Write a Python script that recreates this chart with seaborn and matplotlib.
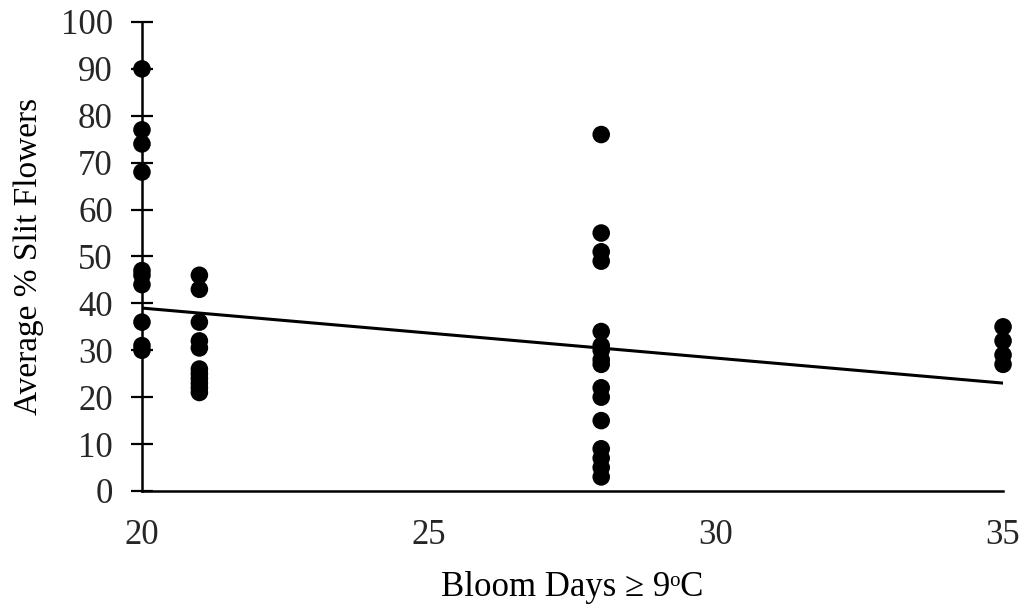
import matplotlib
matplotlib.use("Agg")
import matplotlib.pyplot as plt
import seaborn as sns
import pandas as pd

# Data
x20 = [90, 77, 74, 68, 47, 46, 44, 36, 31, 30]
x21 = [46, 43, 36, 32, 30.5, 26, 25, 24, 23, 22, 21]
x28 = [76, 55, 51, 49, 34, 31, 30, 28, 27, 22, 20, 15, 9, 7, 5, 3]
x35 = [35, 32, 29, 27]
bloom_days = [20, 21, 28, 35]
trend_x = [20, 35]
trend_y = [39, 23]
x_ticks = [20, 25, 30, 35]
y_ticks = list(range(0, 101, 10))

rows = []
for d, vals in zip(bloom_days, [x20, x21, x28, x35]):
    for v in vals:
        rows.append({"days": d, "slit": v})
df = pd.DataFrame(rows)
trend = pd.DataFrame({"days": trend_x, "slit": trend_y})

sns.set_style("white")
plt.rcParams["font.family"] = ["Liberation Serif", "DejaVu Serif"]

fig = plt.figure(figsize=(10.31, 6.09), dpi=100)
ax = fig.add_axes([0.1377, 0.1938, 0.9729 - 0.1377, 0.9639 - 0.1938])

sns.lineplot(data=trend, x="days", y="slit", ax=ax, color="black", lw=2.2, zorder=2)
sns.scatterplot(data=df, x="days", y="slit", ax=ax, s=160, color="black",
                edgecolor="none", zorder=3, clip_on=False)

ax.set_xlim(20, 35)
ax.set_ylim(0, 100)
ax.set_xticks(x_ticks)
ax.set_yticks(y_ticks)
ax.tick_params(axis="y", left=True, direction="inout", length=16, width=1.6,
               labelsize=25, pad=13, color="black")
ax.tick_params(axis="x", bottom=False, length=0, labelsize=25, pad=20)
for s in ["top", "right"]:
    ax.spines[s].set_visible(False)
for s in ["left", "bottom"]:
    ax.spines[s].set_color("black")
    ax.spines[s].set_linewidth(1.8)

ax.set_xlabel("Bloom Days \u2265 9\u1d52C", fontsize=25, labelpad=14, color="black")
ax.set_ylabel("Average % Slit Flowers", fontsize=24, labelpad=12, color="black")

fig.savefig("out.png", dpi=100, facecolor="white")
